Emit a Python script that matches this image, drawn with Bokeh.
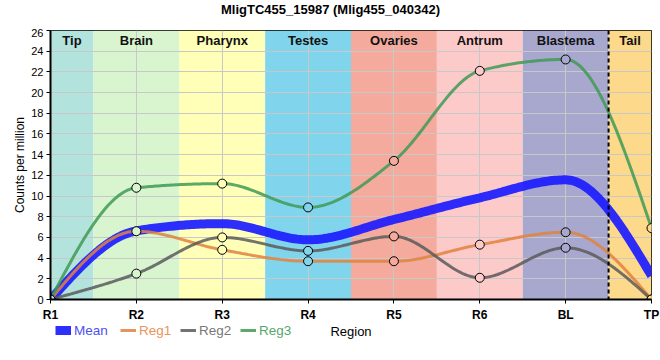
import numpy as np
from bokeh.plotting import figure
from bokeh.layouts import column
from bokeh.models import Span, Legend, LegendItem, FixedTicker, Range1d, Label
from bokeh.core.properties import value
from bokeh.embed import file_html
from bokeh.resources import INLINE

# ---- data ----
title_text = "MligTC455_15987 (Mlig455_040342)"
regions = ["R1", "R2", "R3", "R4", "R5", "R6", "BL", "TP"]
reg1 = [0.0, 6.6, 4.8, 3.7, 3.7, 5.3, 6.5, 0.0]
reg2 = [0.0, 2.5, 6.0, 4.7, 6.1, 2.1, 5.0, 0.0]
reg3 = [0.0, 10.8, 11.2, 8.9, 13.4, 22.1, 23.2, 6.9]
mean = [round((a + b + c) / 3.0, 3) for a, b, c in zip(reg1, reg2, reg3)]

band_names = ["Tip", "Brain", "Pharynx", "Testes", "Ovaries", "Antrum", "Blastema", "Tail"]
band_left = [0, 0.5, 1.5, 2.5, 3.5, 4.5, 5.5, 6.5]
band_right = [0.5, 1.5, 2.5, 3.5, 4.5, 5.5, 6.5, 7]
band_label_x = [0.25, 1.0, 2.0, 3.0, 4.0, 5.0, 6.0, 6.75]
band_colors = ["#b3e3dd", "#d8f5d0", "#ffffb8", "#80d4ec", "#f4aa9c", "#fdcaca", "#a8a8cf", "#fdd98b"]

y_ticks = list(range(0, 27, 2))

FONT = "Liberation Sans"


def monotone_path(ys, n=40):
    """Monotone cubic (d3 curveMonotoneX style) path through the given points."""
    xs = np.arange(len(ys), dtype=float)
    ys = np.asarray(ys, dtype=float)
    h = np.diff(xs)
    s = np.diff(ys) / h
    N = len(xs)
    t = np.zeros(N)
    for i in range(1, N - 1):
        p_ = (s[i - 1] * h[i] + s[i] * h[i - 1]) / (h[i - 1] + h[i])
        t[i] = (np.sign(s[i - 1]) + np.sign(s[i])) * min(abs(s[i - 1]), abs(s[i]), 0.5 * abs(p_))
    t[0] = (3 * s[0] - t[1]) / 2
    t[-1] = (3 * s[-1] - t[-2]) / 2
    px, py = [], []
    u = np.linspace(0, 1, n)
    for i in range(N - 1):
        dx = h[i] / 3
        P0 = (xs[i], ys[i])
        P1 = (xs[i] + dx, ys[i] + dx * t[i])
        P2 = (xs[i + 1] - dx, ys[i + 1] - dx * t[i + 1])
        P3 = (xs[i + 1], ys[i + 1])
        uu = u if i == 0 else u[1:]
        bx = (1 - uu) ** 3 * P0[0] + 3 * (1 - uu) ** 2 * uu * P1[0] + 3 * (1 - uu) * uu ** 2 * P2[0] + uu ** 3 * P3[0]
        by = (1 - uu) ** 3 * P0[1] + 3 * (1 - uu) ** 2 * uu * P1[1] + 3 * (1 - uu) * uu ** 2 * P2[1] + uu ** 3 * P3[1]
        px.extend(bx.tolist())
        py.extend(by.tolist())
    return px, py


# ---- title strip (x range in canvas pixels: frame spans 50..651) ----
tf = figure(frame_width=601, frame_height=28,
            x_range=Range1d(50, 651), y_range=Range1d(0, 28),
            x_axis_type=None, y_axis_type=None,
            output_backend="svg", toolbar_location=None,
            min_border_left=50, min_border_right=9, min_border_top=0, min_border_bottom=0,
            background_fill_color="white", border_fill_color="white")
tf.grid.visible = False
tf.outline_line_color = None
tf.add_layout(Label(x=330, y=19, text=title_text, text_align="center", text_baseline="middle",
                    text_font=FONT, text_font_size="13px", text_font_style="bold",
                    text_color="black"))

# ---- main plot ----
p = figure(frame_width=601, frame_height=269,
           x_range=Range1d(0, 7), y_range=Range1d(0, 26),
           output_backend="svg", toolbar_location=None,
           min_border_left=50, min_border_right=9, min_border_top=2, min_border_bottom=24,
           background_fill_color="white", border_fill_color="white")

# background bands
p.quad(left=band_left, right=band_right, bottom=0, top=26, fill_color=band_colors,
       line_color=None, level="image")

# grids
p.xgrid.ticker = FixedTicker(ticks=list(range(len(regions))))
p.ygrid.ticker = FixedTicker(ticks=y_ticks)
p.grid.grid_line_color = "#c8c8c8"
p.grid.grid_line_width = 1

# axes
p.xaxis.ticker = FixedTicker(ticks=list(range(len(regions))))
p.xaxis.major_label_overrides = {i: r for i, r in enumerate(regions)}
p.yaxis.ticker = FixedTicker(ticks=y_ticks)
for ax in (p.xaxis[0], p.yaxis[0]):
    ax.axis_line_width = 2
    ax.axis_line_color = "black"
    ax.major_tick_line_color = "black"
    ax.major_tick_in = 0
    ax.major_tick_out = 4
    ax.minor_tick_line_color = None
    ax.major_label_text_font = FONT
    ax.major_label_text_color = "black"
    ax.axis_label_text_font = FONT
    ax.axis_label_text_font_style = "normal"
    ax.axis_label_text_color = "black"
p.xaxis.major_label_text_font_size = "12px"
p.xaxis.major_label_text_font_style = "bold"
p.xaxis.major_label_standoff = 4
p.yaxis.major_label_text_font_size = "11px"
p.yaxis.major_label_standoff = 3
p.yaxis.axis_label = "Counts per million"
p.yaxis.axis_label_text_font_size = "12px"
p.yaxis.axis_label_standoff = 1

p.outline_line_color = "black"
p.outline_line_width = 1

# band labels
p.text(x=band_label_x, y=[25.0] * len(band_names), text=band_names,
       text_align="center", text_baseline="middle",
       text_font=value(FONT), text_font_size="13px", text_font_style="bold",
       text_color="#111111")

# dashed divider
p.add_layout(Span(location=6.5, dimension="height", line_color="black",
                  line_width=2, line_dash="4 3"))

# series
series = [
    ("Mean", mean, "#1c1cff", 9, 0.92, "#4f4ff0"),
    ("Reg1", reg1, "#e0823e", 3, 0.85, "#e8955a"),
    ("Reg2", reg2, "#5a5a5a", 3, 0.85, "#777777"),
    ("Reg3", reg3, "#3f9a55", 3, 0.85, "#55a86a"),
]
for name, vals, col, lw, alpha, _ in series:
    px, py = monotone_path(vals)
    p.line(px, py, line_color=col, line_width=lw, line_alpha=alpha)

for name, vals, col, lw, alpha, _ in series[1:]:
    p.scatter(x=list(range(len(vals))), y=vals, size=9, marker="circle",
              fill_color=band_colors, line_color="black", line_width=1)

# ---- legend row (legend items + x-axis title) ----
lf = figure(frame_width=601, frame_height=37,
            x_range=Range1d(0, 7), y_range=Range1d(0, 37),
            x_axis_type=None, y_axis_type=None,
            output_backend="svg", toolbar_location=None,
            min_border_left=50, min_border_right=9, min_border_top=0, min_border_bottom=0,
            background_fill_color="white", border_fill_color="white")
lf.grid.visible = False
lf.outline_line_color = None

leg_x = [5, 70, 130, 190]
for (name, vals, col, lw, alpha, tcol), lx in zip(series, leg_x):
    # proxy renderer for the legend swatch only (lies outside the visible range)
    r = lf.line(x=[-5, -4], y=[-5, -5], line_color=col, line_width=lw, line_alpha=alpha)
    leg = Legend(items=[LegendItem(label=name, renderers=[r])],
                 location=(lx, 23), orientation="horizontal",
                 padding=0, margin=0, spacing=0,
                 border_line_color=None, background_fill_alpha=0,
                 glyph_width=16, glyph_height=16, label_height=16, label_standoff=3,
                 label_text_font=FONT, label_text_font_size="13.5px",
                 label_text_color=tcol)
    lf.add_layout(leg)

lf.add_layout(Label(x=3.5, y=30, text="Region", text_align="center", text_baseline="middle",
                    text_font=FONT, text_font_size="13px", text_color="black"))

layout = column(tf, p, lf, spacing=0)
open("out.html", "w").write(file_html(layout, INLINE))
